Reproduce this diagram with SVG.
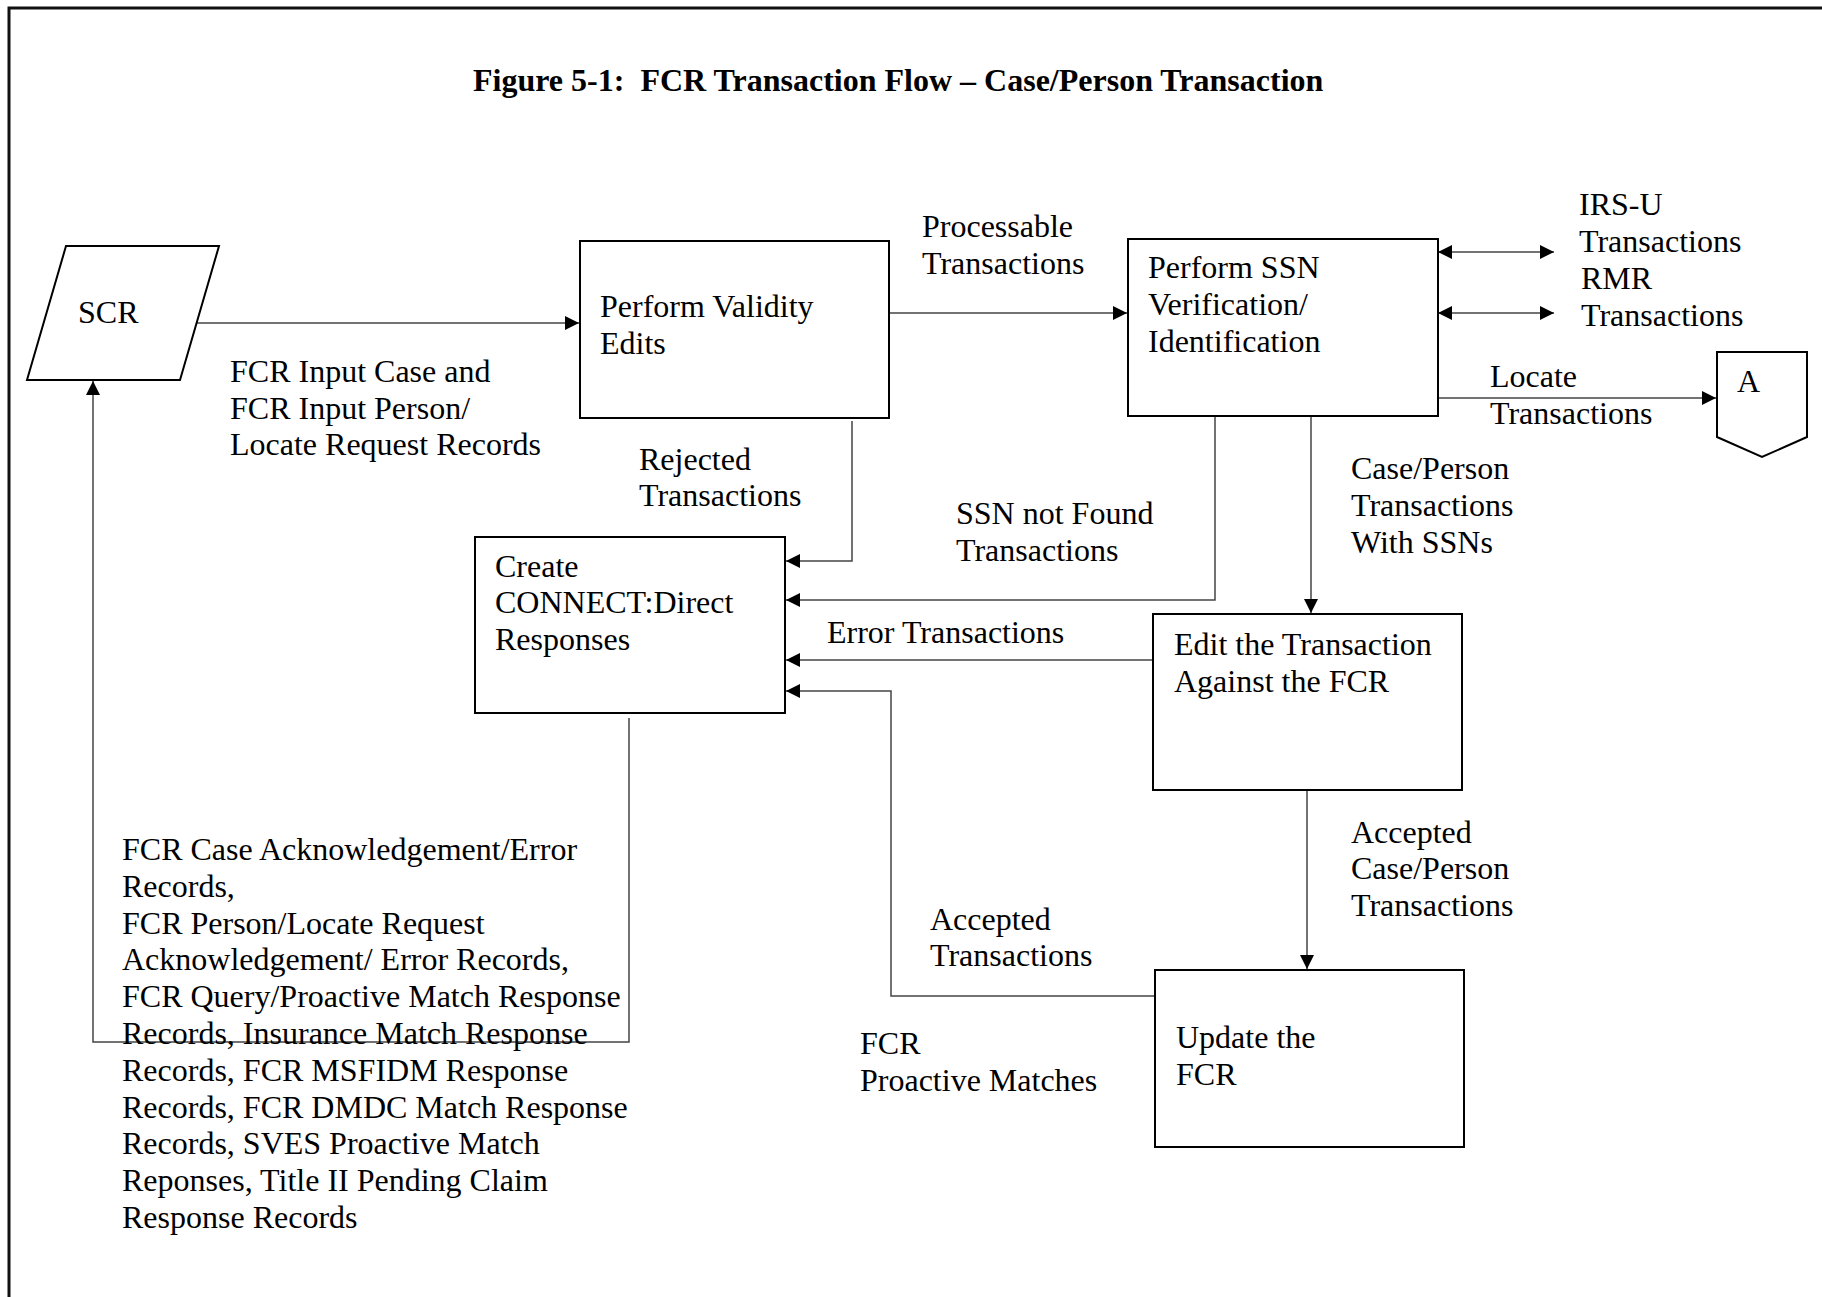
<svg xmlns="http://www.w3.org/2000/svg" width="1822" height="1297" viewBox="0 0 1822 1297">
  <style>
    text { font-family: "Liberation Serif", "Times New Roman", serif; font-size: 32px; fill: #000; }
    .title { font-weight: bold; }
    .box { fill: #fff; stroke: #000; stroke-width: 2; }
    .conn { fill: none; stroke: #444; stroke-width: 1.5; }
    .frame { fill: none; stroke: #111; stroke-width: 3; }
  </style>
  <defs>
    <marker id="arr" markerUnits="userSpaceOnUse" markerWidth="15" markerHeight="15" refX="14" refY="7" orient="auto-start-reverse" viewBox="0 0 15 14">
      <path d="M0,0 L14,7 L0,14 z" fill="#000"/>
    </marker>
  </defs>

  <rect width="1822" height="1297" fill="#fff"/>
  <path class="frame" d="M9,1297 V8 H1822"/>

  <text class="title" x="473" y="91">Figure 5-1:&#160; FCR Transaction Flow – Case/Person Transaction</text>

  <g id="connectors">
    <path class="conn" d="M197,323 H579" marker-end="url(#arr)"/>
    <path class="conn" d="M889,313 H1127" marker-end="url(#arr)"/>
    <path class="conn" d="M1438,252 H1554" marker-start="url(#arr)" marker-end="url(#arr)"/>
    <path class="conn" d="M1438,313 H1554" marker-start="url(#arr)" marker-end="url(#arr)"/>
    <path class="conn" d="M1438,398 H1716" marker-end="url(#arr)"/>
    <path class="conn" d="M852,421 V561 H786" marker-end="url(#arr)"/>
    <path class="conn" d="M1215,417 V600 H786" marker-end="url(#arr)"/>
    <path class="conn" d="M1311,417 V613" marker-end="url(#arr)"/>
    <path class="conn" d="M1153,660 H786" marker-end="url(#arr)"/>
    <path class="conn" d="M1155,996 H891 V691 H786" marker-end="url(#arr)"/>
    <path class="conn" d="M1307,791 V969" marker-end="url(#arr)"/>
    <path class="conn" d="M629,718 V1042 H93 V381" marker-end="url(#arr)"/>
  </g>

  <g id="labels">
    <text><tspan x="230" y="382">FCR Input Case and</tspan><tspan x="230" y="419">FCR Input Person/</tspan><tspan x="230" y="455">Locate Request Records</tspan></text>
    <text><tspan x="922" y="237">Processable</tspan><tspan x="922" y="274">Transactions</tspan></text>
    <text><tspan x="1579" y="215">IRS-U</tspan><tspan x="1579" y="252">Transactions</tspan></text>
    <text><tspan x="1581" y="289">RMR</tspan><tspan x="1581" y="326">Transactions</tspan></text>
    <text><tspan x="1490" y="387">Locate</tspan><tspan x="1490" y="424">Transactions</tspan></text>
    <text><tspan x="639" y="470">Rejected</tspan><tspan x="639" y="506">Transactions</tspan></text>
    <text><tspan x="956" y="524">SSN not Found</tspan><tspan x="956" y="561">Transactions</tspan></text>
    <text><tspan x="1351" y="479">Case/Person</tspan><tspan x="1351" y="516">Transactions</tspan><tspan x="1351" y="553">With SSNs</tspan></text>
    <text x="827" y="643">Error Transactions</text>
    <text><tspan x="1351" y="843">Accepted</tspan><tspan x="1351" y="879">Case/Person</tspan><tspan x="1351" y="916">Transactions</tspan></text>
    <text><tspan x="930" y="930">Accepted</tspan><tspan x="930" y="966">Transactions</tspan></text>
    <text><tspan x="860" y="1054">FCR</tspan><tspan x="860" y="1091">Proactive Matches</tspan></text>
    <text>
      <tspan x="122" y="860">FCR Case Acknowledgement/Error</tspan>
      <tspan x="122" y="897">Records,</tspan>
      <tspan x="122" y="934">FCR Person/Locate Request</tspan>
      <tspan x="122" y="970">Acknowledgement/ Error Records,</tspan>
      <tspan x="122" y="1007">FCR Query/Proactive Match Response</tspan>
      <tspan x="122" y="1044">Records, Insurance Match Response</tspan>
      <tspan x="122" y="1081">Records, FCR MSFIDM Response</tspan>
      <tspan x="122" y="1118">Records, FCR DMDC Match Response</tspan>
      <tspan x="122" y="1154">Records, SVES Proactive Match</tspan>
      <tspan x="122" y="1191">Reponses, Title II Pending Claim</tspan>
      <tspan x="122" y="1228">Response Records</tspan>
    </text>
  </g>

  <g id="node-scr">
    <polygon class="box" points="66,246 219,246 180,380 27,380"/>
    <text x="78" y="323">SCR</text>
  </g>
  <g id="node-validity">
    <rect class="box" x="580" y="241" width="309" height="177"/>
    <text><tspan x="600" y="317">Perform Validity</tspan><tspan x="600" y="354">Edits</tspan></text>
  </g>
  <g id="node-ssn">
    <rect class="box" x="1128" y="239" width="310" height="177"/>
    <text><tspan x="1148" y="278">Perform SSN</tspan><tspan x="1148" y="315">Verification/</tspan><tspan x="1148" y="352">Identification</tspan></text>
  </g>
  <g id="node-a">
    <polygon class="box" points="1717,352 1807,352 1807,437 1762,457 1717,437"/>
    <text x="1737" y="392">A</text>
  </g>
  <g id="node-connect">
    <rect class="box" x="475" y="537" width="310" height="176"/>
    <text><tspan x="495" y="577">Create</tspan><tspan x="495" y="613">CONNECT:Direct</tspan><tspan x="495" y="650">Responses</tspan></text>
  </g>
  <g id="node-edit">
    <rect class="box" x="1153" y="614" width="309" height="176"/>
    <text><tspan x="1174" y="655">Edit the Transaction</tspan><tspan x="1174" y="692">Against the FCR</tspan></text>
  </g>
  <g id="node-update">
    <rect class="box" x="1155" y="970" width="309" height="177"/>
    <text><tspan x="1176" y="1048">Update the</tspan><tspan x="1176" y="1085">FCR</tspan></text>
  </g>
</svg>
